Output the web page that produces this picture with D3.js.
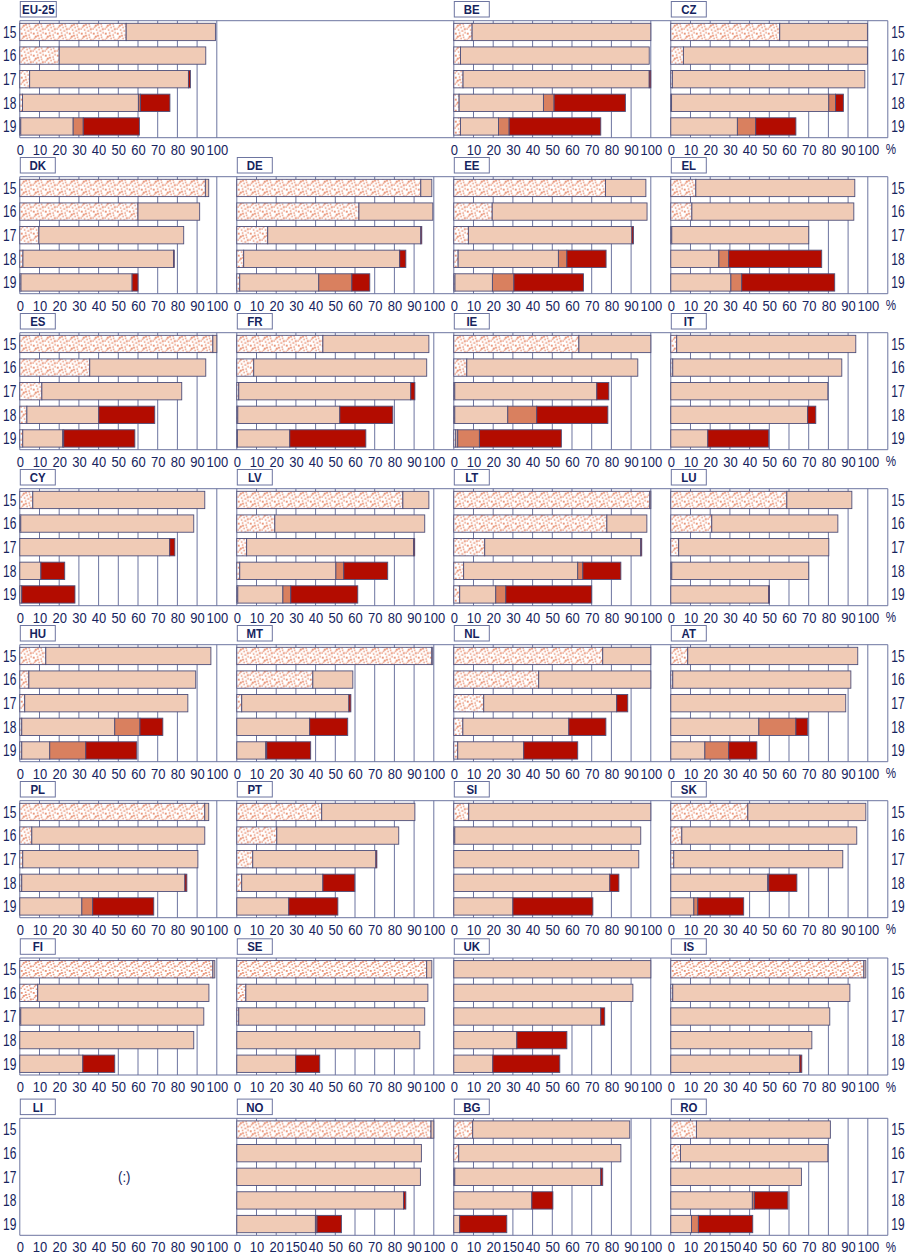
<!DOCTYPE html>
<html><head><meta charset="utf-8">
<script src="https://cdn.jsdelivr.net/npm/d3@7"></script>
<style>
html,body{margin:0;padding:0;background:#fff;}
svg text{font-family:"Liberation Sans",Arial,sans-serif;}
</style></head>
<body><svg id="chart" width="906" height="1256"></svg>
<script>
const ages = ["15","16","17","18","19"];
const tickLabels = ["0","10","20","30","40","50","60","70","80","90","100"];
const tickLabelsLastRow = ["0","10","20","150","40","50","60","70","80","90","100"];
const countries = ["EU-25","BE","CZ","DK","DE","EE","EL","ES","FR","IE","IT","CY","LV","LT","LU","HU","MT","NL","AT","PL","PT","SI","SK","FI","SE","UK","IS","LI","NO","BG","RO"];
// dotted segment
const lowerSec = [
[54,20,5,1.4,0.5],[9.3,3.4,4.7,2.7,3.4],[55.3,6.4,0.8,0.4,0],
[94.2,60,9.7,1.6,0.6],[93.4,62,15.7,3.5,1.5],[77,19.5,7.4,2.2,0.6],[12.7,10.7,0.5,0,0],
[98,35.5,11.2,3.6,1.5],[43.7,8.6,1,0.5,0.3],[63.5,6.6,0.5,0.5,1],[3,1,0,0,0],
[6.6,0.5,0,0,0],[84.3,19.3,5,1.5,0.5],[99.5,77.7,15.7,5,3],[58.9,20.8,4,0.5,0],
[13.2,4.6,2.5,1,1],[99,38.6,2.5,0,0],[75.6,43.1,15.2,4.6,2],[8.6,1,0,0,0],
[93.9,6.1,1.5,1,0],[43.1,20.3,8.1,2.5,0],[7.6,0.5,0,0,0],[39.1,5.6,1.5,0,0],
[98,9.1,0.5,0,0],[96.4,4.6,1,0,0],[0,0,0,0,0],[98,1,0,0,0],
null,[98.6,0,0,0,0],[9.6,2.5,0.5,0,0],[13,4.9,0,0,0]];
// light segment
const upperSec = [
[45.3,74.4,80.6,58.8,26.6],[90.7,95.8,94.5,42.8,19.3],[44.5,93.4,97.7,79.8,33.8],
[1.7,31.3,73.5,76.5,56.4],[5.6,37.5,77.7,79.2,40.1],[20.5,78.6,83,50.9,19],[80.7,82.2,69.5,24.4,30.5],
[2,58.9,71,36.5,20.3],[53.8,87.8,87.3,51.8,26.6],[36.5,86.8,72.1,26.9,1],[90.9,85.8,79.7,69.5,18.8],
[87.3,87.8,76.1,10.7,1],[13.2,76.1,84.8,48.8,22.9],[0.5,20.3,79.2,57.9,18.3],[33,64,76.2,69.5,49.7],
[83.8,84.7,82.8,47.2,14.2],[0.5,20.3,54.4,37,14.7],[24.4,56.9,67.5,53.8,33.5],[86.3,90.4,88.8,44.7,17.3],
[2,87.8,88.9,82.8,31.5],[47.3,61.9,62.5,41.2,26.4],[92.4,94.4,93.9,79.2,30],[59.9,88.8,85.8,49.2,11.7],
[1,86.9,92.9,88.3,32],[2.6,92.4,94.4,92.9,29.9],[100,90.9,74.6,32,19.8],[1,89.9,80.7,71.6,65.5],
null,[1.4,93.7,93.2,84.6,39.9],[79.7,82.3,74.1,39.6,3],[68,74.8,66.3,41.4,10.5]];
// medium orange segment
const postSec = [
[0,0,0,1,5.1],[0,0,0,5.4,5.4],[0,0,0,3.4,9.3],
[0,0,0,0,0],[0,0,0,0,16.8],[0,0,0,4.3,10.9],[0,0,0,5,5.5],
[0,0,0,0,0.5],[0,0,0,0,0],[0,0,0,14.7,11],[0,0,0,0,0],
[0,0,0,0,0],[0,0,0,4,4],[0,0,0,2.6,5.1],[0,0,0,0,0],
[0,0,0,12.8,18.3],[0,0,0,0,0.5],[0,0,0,0,0],[0,0,0,18.8,12.1],
[0,0,0,0,5.5],[0,0,0,0,0],[0,0,0,0,0],[0,0,0,0.5,2],
[0,0,0,0,0],[0,0,0,0,0],[0,0,0,0,0],[0,0,0,0,0],
null,[0,0,0,0,0.8],[0,0,0,0,0],[0,0,0,1,3.5]];
// dark red segment
const tertiary = [
[0,0,1,15,28.5],[0,0,0.8,36.2,46.5],[0,0,0,4,20.4],
[0,0,0,0.3,3],[0,0,0.5,3.1,9.1],[0,0,0.8,19.9,35.3],[0,0,0,47.2,47.2],
[0,0,0,28.4,36.1],[0,0,2.1,26.9,38.6],[0,0,6.1,36.1,41.6],[0,0,0,4.1,30.9],
[0,0,2.6,12.1,27],[0,0,0.5,22.3,34],[0,0,0.5,19.3,43.6],[0,0,0,0,0.4],
[0,0,0,11.6,25.9],[0,0,1,19.3,22.3],[0,0,5.6,18.8,27.4],[0,0,0,6,14.3],
[0,0,0,1,31],[0,0,0.5,16.2,24.9],[0,0,0,4.6,40.6],[0,0,0,14.3,23.3],
[0,0,0,0,16.2],[0,0,0,0,12.2],[0,0,2,25.4,34],[0,0,0,0,1],
null,[0,0,0,1.2,12.4],[0,0,1,10.7,23.9],[0,0,0,17,27.6]];

// layout
const slots = [[0,0],[2,0],[3,0]];
for (let r=1;r<8;r++) for (let c=0;c<4;c++) slots.push([c,r]);
const rowTops = [20.7,176.7,332.7,488.7,644.7,800.7,958,1118.3];
const colX = [19.8,236.8,453.8,670.8];
const plotW = 197, colW = 217, plotH = 117;
const navy = "#16245e", gridC = "#6d75a0", barStroke = "#4e4f7a";
const colors = ["url(#dots)","#f0cbb6","#d9805f","#b30c00"];

const svg = d3.select("#chart");
const defs = svg.append("defs");
const pat = defs.append("pattern").attr("id","dots").attr("patternUnits","userSpaceOnUse")
  .attr("width",12).attr("height",11);
pat.append("rect").attr("width",12).attr("height",11).attr("fill","#fff");
[[1,1],[5,0.5],[8.5,2.5],[3,4],[6.5,6],[0.5,7.5],[10,7.5],[4,8.5],[10.5,0.2],[7.5,9.5],[2,5.8],[9,4.8],[5.2,3]].forEach(([x,y],i)=>{
  const s = i%3===0?1.9:1.5;
  pat.append("rect").attr("x",x).attr("y",y).attr("width",s).attr("height",s).attr("fill","#e99477");
});

function condText(sel, x, y, txt, size, sx, opts={}) {
  const t = sel.append("text").attr("transform",`translate(${x},${y}) scale(${sx},1)`)
    .attr("text-anchor",opts.anchor||"middle").attr("font-size",size).attr("fill",navy).text(txt);
  if (opts.bold) t.attr("font-weight","bold");
  return t;
}

const x = d3.scaleLinear().domain([0,100]).range([0,plotW]);
const yb = d3.scaleBand().domain(ages).range([0,plotH]).paddingInner(0.267).paddingOuter(0.11);

rowTops.forEach(t=>{
  svg.append("line").attr("x1",colX[0]).attr("x2",colX[3]+colW).attr("y1",t).attr("y2",t).attr("stroke",gridC);
  svg.append("line").attr("x1",colX[0]).attr("x2",colX[3]+colW).attr("y1",t+plotH).attr("y2",t+plotH).attr("stroke",gridC);
  svg.append("line").attr("x1",colX[3]+colW).attr("x2",colX[3]+colW).attr("y1",t).attr("y2",t+plotH).attr("stroke",gridC);
  ages.forEach(a=>{
    const yy = t+yb(a)+yb.bandwidth()/2+5.8;
    condText(svg, 9.7, yy, a, 16, 0.75);
    condText(svg, 898, yy, a, 16, 0.75);
  });
  condText(svg, 891, t+plotH+16.5, "%", 14.5, 0.8);
});

countries.forEach((name,i)=>{
  const [c,r] = slots[i];
  const x0 = colX[c], t = rowTops[r];
  const g = svg.append("g").attr("transform",`translate(${x0},${t})`);
  const hasData = lowerSec[i] !== null;
  if (hasData) {
    g.selectAll("line.grid").data(d3.range(10,101,10)).join("line")
      .attr("x1",d=>x(d)).attr("x2",d=>x(d)).attr("y1",0).attr("y2",plotH).attr("stroke",gridC);
  }
  g.append("line").attr("x1",0).attr("x2",0).attr("y1",0).attr("y2",plotH).attr("stroke",gridC);
  const labs = (r===7 && c>0) ? tickLabelsLastRow : tickLabels;
  const ax = d3.axisBottom(x).tickValues(d3.range(0,101,10)).tickSize(0).tickPadding(0)
    .tickFormat((d,j)=>labs[j]);
  const axG = g.append("g").attr("transform",`translate(0,${plotH})`).call(ax);
  axG.select(".domain").remove();
  axG.selectAll("text").attr("dy",null).attr("y",null)
     .attr("transform","translate(0,16.8) scale(0.84,1)")
     .attr("font-size",15.5).attr("fill",navy)
     .style("font-family",'"Liberation Sans",Arial,sans-serif');
  const w = name.length>3 ? 36 : 35;
  svg.append("rect").attr("x",x0+0.5).attr("y",t-19.2).attr("width",w).attr("height",15.5)
    .attr("fill","#fff").attr("stroke",gridC);
  condText(svg, x0+0.5+w/2, t-6.8, name, 13.5, 0.85, {bold:true});
  if (!hasData) {
    condText(g, x(53), plotH/2+5, "(:)", 15.5, 0.85);
    return;
  }
  const series = [lowerSec[i],upperSec[i],postSec[i],tertiary[i]];
  ages.forEach((a,k)=>{
    let acc = 0;
    series.forEach((s,si)=>{
      const v = s[k];
      if (v>0) {
        g.append("rect").attr("x",x(acc)).attr("y",yb(a)).attr("width",x(acc+v)-x(acc))
          .attr("height",yb.bandwidth()).attr("fill",colors[si]).attr("stroke",barStroke).attr("stroke-width",0.9);
      }
      acc += v;
    });
  });
});
</script></body></html>
